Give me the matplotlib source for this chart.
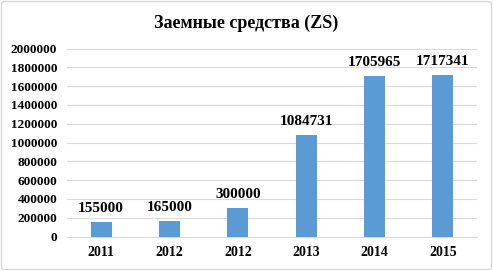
import matplotlib
matplotlib.use("Agg")
import matplotlib.pyplot as plt
from matplotlib.patches import FancyBboxPatch

categories = ["2011", "2012", "2012", "2013", "2014", "2015"]
values = [155000, 165000, 300000, 1084731, 1705965, 1717341]
yticks = list(range(0, 2000001, 200000))

W, H = 493, 271
fig = plt.figure(figsize=(W/100, H/100), dpi=100)
plt.rcParams['font.family'] = ['Liberation Serif', 'DejaVu Serif']

border = FancyBboxPatch((1.5/W, 1.5/H), 1-3/W, 1-3/H, boxstyle="round,pad=0,rounding_size=0.008",
                        transform=fig.transFigure, fill=False, edgecolor="#D9D9D9", linewidth=1.0)
fig.patches.append(border)

left, right, top, bottom = 67, 477, 48.5, 236.5
ax = fig.add_axes([left/W, 1-bottom/H, (right-left)/W, (bottom-top)/H])
x = list(range(len(categories)))
bars = ax.bar(x, values, width=0.31, color="#5B9BD5", zorder=3)
ax.set_xlim(-0.5, len(categories)-0.5)
ax.set_ylim(0, 2000000)
ax.set_yticks(yticks)
ax.set_yticklabels([str(v) for v in yticks], fontsize=9.5, fontweight='bold')
ax.set_xticks(x)
ax.set_xticklabels(categories, fontsize=10, fontweight='bold')
ax.grid(axis='y', color="#D9D9D9", linewidth=0.8, zorder=0)
for s in ['top', 'right', 'left']:
    ax.spines[s].set_visible(False)
ax.spines['bottom'].set_color("#D9D9D9")
ax.tick_params(axis='both', length=0)
ax.tick_params(axis='y', pad=7)
ax.tick_params(axis='x', pad=7)
for xi, v in zip(x, values):
    ax.annotate(str(v), (xi, v), xytext=(0, 5), textcoords='offset points',
                ha='center', va='bottom', fontsize=11, fontweight='bold')
fig.text(0.5, 1-23/H, "Заемные средства (ZS)", ha='center', va='center', fontsize=13, fontweight='bold')
fig.savefig("out.png", dpi=100)
